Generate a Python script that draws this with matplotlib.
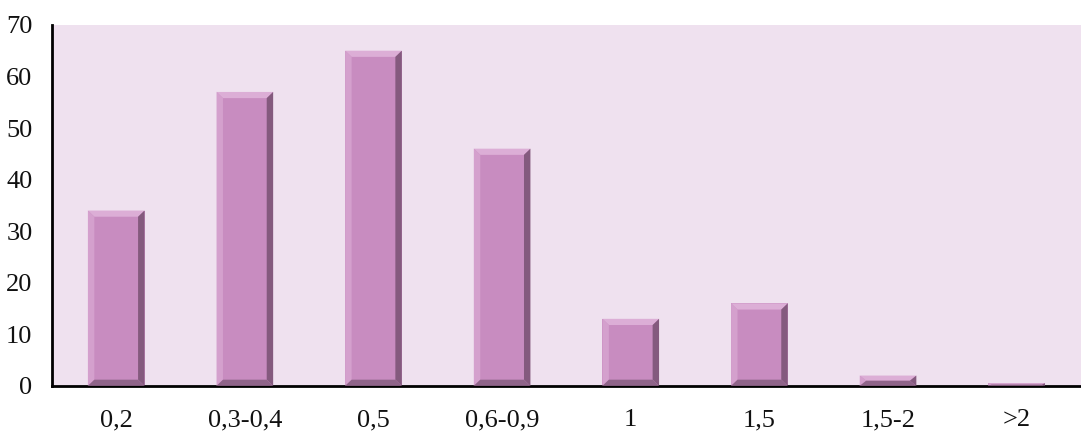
import numpy as np
import matplotlib.pyplot as plt
from matplotlib.patches import Polygon

# Data
categories = ['0,2', '0,3-0,4', '0,5', '0,6-0,9', '1', '1,5', '1,5-2', '>2']
values = [34, 57, 65, 46, 13, 16, 2, 0.5]

plt.rcParams['font.family'] = ['Liberation Serif', 'DejaVu Serif']

fig = plt.figure(figsize=(10.81, 4.37), dpi=100)
ax = fig.add_axes([0.048, 0.117, 0.952, 0.826])
ax.set_facecolor('#efe1ef')

x = np.arange(len(categories))
width = 0.44
bars = ax.bar(x, values, width=width, color='#c88cc0', zorder=2)

# bevel sizes in data units (about 6 px each way)
bx = 0.05
by = 1.2
for b in bars:
    x0 = b.get_x()
    x1 = x0 + b.get_width()
    h = b.get_height()
    d = min(by, h / 2)
    dx = bx if h > 1 else bx / 2
    # top bevel (light)
    ax.add_patch(Polygon([(x0, h), (x1, h), (x1 - dx, h - d), (x0 + dx, h - d)],
                         closed=True, color='#dcaed6', zorder=3, lw=0))
    # left bevel (light)
    ax.add_patch(Polygon([(x0, 0), (x0, h), (x0 + dx, h - d), (x0 + dx, d)],
                         closed=True, color='#d4a0cd', zorder=3, lw=0))
    # right side (dark)
    ax.add_patch(Polygon([(x1, 0), (x1, h), (x1 - dx, h - d), (x1 - dx, d)],
                         closed=True, color='#845a7e', zorder=3, lw=0))
    # bottom bevel (dark)
    ax.add_patch(Polygon([(x0, 0), (x1, 0), (x1 - dx, d), (x0 + dx, d)],
                         closed=True, color='#8f6489', zorder=3, lw=0))

ax.set_xlim(-0.5, len(categories) - 0.5)
ax.set_ylim(0, 70)
ax.set_yticks(range(0, 71, 10))
ax.set_xticks(x)
ax.set_xticklabels(categories)
ax.tick_params(axis='both', length=0, labelsize=19, colors='#111111')
ax.tick_params(axis='x', pad=17)
ax.tick_params(axis='y', pad=14)

for s in ['top', 'right']:
    ax.spines[s].set_visible(False)
ax.spines['left'].set_linewidth(2)
ax.spines['bottom'].set_linewidth(2)

plt.savefig('out.png', dpi=100)
